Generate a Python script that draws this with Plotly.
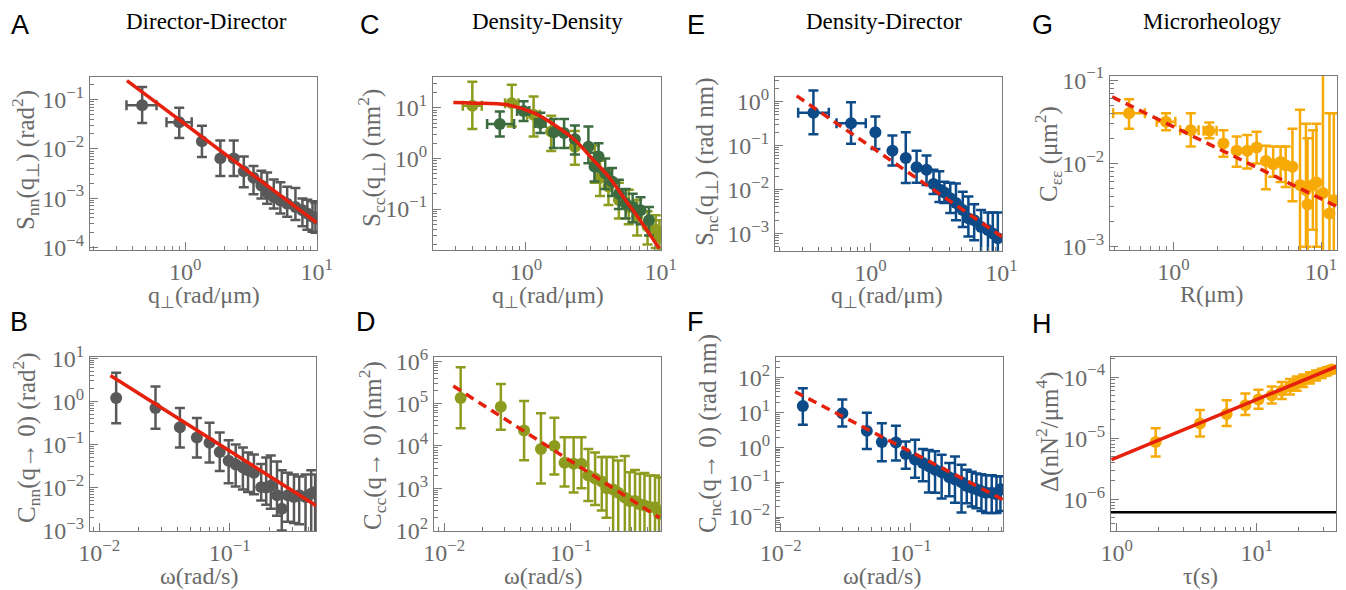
import math
import plotly.graph_objects as go

W, H = 1346, 590

# ---------------- data ----------------
# A: Director-Director, S_nn(q)
A_q = [0.47, 0.90, 1.34, 1.85, 2.34, 2.79, 3.31, 3.8, 4.2, 4.72, 5.3, 5.97, 6.9, 7.8, 8.5, 9.3, 9.8]
A_S = [0.076, 0.0346, 0.0143, 0.0064, 0.0064, 0.0035, 0.0026, 0.0018, 0.0013, 0.00105, 0.0009,
       0.00077, 0.00066, 0.00057, 0.00049, 0.00042, 0.00039]
A_S_hi = [0.178, 0.068, 0.0295, 0.0148, 0.0148, 0.007, 0.0045, 0.0036, 0.0033, 0.0024, 0.0021,
          0.0017, 0.0016, 0.00098, 0.00093, 0.00087, 0.0008]
A_S_lo = [0.0335, 0.0166, 0.0068, 0.0028, 0.0028, 0.00166, 0.0012, 0.00098, 0.00077, 0.00062,
          0.00049, 0.00042, 0.00036, 0.00027, 0.00023, 0.00021, 0.0002]
A_q_lo = [0.357, 0.72] + A_q[2:]
A_q_hi = [0.605, 1.12] + A_q[2:]
A_fit_q = [0.36, 10.0]
A_fit_S = [0.24, 0.00032]

# B: Director-Director, C_nn(q->0)(omega)
B_w = [0.0135, 0.027, 0.0415, 0.056, 0.070, 0.0838, 0.098, 0.111, 0.126, 0.138, 0.153, 0.174,
       0.19, 0.206, 0.23, 0.25, 0.278, 0.31, 0.34, 0.38, 0.42, 0.45]
B_C = [1.19, 0.70, 0.25, 0.144, 0.11, 0.067, 0.042, 0.034, 0.029, 0.025, 0.022, 0.0102, 0.010,
       0.011, 0.0066, 0.0032, 0.0066, 0.006, 0.0066, 0.006, 0.0072, 0.0079]
B_C_hi = [4.6, 2.2, 0.70, 0.41, 0.32, 0.19, 0.125, 0.10, 0.085, 0.065, 0.058, 0.035, 0.05, 0.055,
          0.04, 0.025, 0.022, 0.02, 0.018, 0.02, 0.025, 0.02]
B_C_lo = [0.31, 0.23, 0.085, 0.05, 0.038, 0.024, 0.0126, 0.0105, 0.009, 0.0079, 0.007, 0.005,
          0.004, 0.0032, 0.0022, 0.001, 0.0016, 0.0015, 0.0014, 0.0008, 0.0008, 0.0008]
B_fit_w = [0.0122, 0.47]
B_fit_C = [4.0, 0.0036]

# C: Density-Density, S_cc(q), two data sets
C1_q = [0.40, 0.785, 1.14, 1.54, 2.31, 3.25, 3.55, 4.1, 4.9, 5.8, 6.7, 8.0, 9.2, 9.8]
C1_S = [11, 12.4, 7.3, 3.4, 1.7, 0.80, 0.41, 0.28, 0.15, 0.11, 0.070, 0.045, 0.039, 0.028]
C1_S_hi = [33, 28.5, 16.8, 7.0, 3.5, 1.8, 0.9, 0.6, 0.33, 0.24, 0.15, 0.09, 0.075, 0.06]
C1_S_lo = [3.8, 4.3, 2.7, 1.4, 0.75, 0.33, 0.18, 0.12, 0.065, 0.05, 0.03, 0.02, 0.017, 0.015]
C1_q_lo = [0.34, 0.70, 1.02] + C1_q[3:]
C1_q_hi = [0.47, 0.88, 1.27] + C1_q[3:]
C2_q = [0.64, 0.96, 1.28, 1.61, 1.92, 2.31, 2.91, 3.23, 3.46, 3.88, 4.36, 4.9, 5.5, 6.2, 7.1, 8.2]
C2_S = [4.8, 8.7, 5.0, 3.3, 3.2, 2.4, 1.7, 0.69, 1.09, 0.51, 0.35, 0.2, 0.13, 0.111, 0.095, 0.060]
C2_S_hi = [8.5, 13.5, 8.0, 6.0, 6.0, 4.5, 4.3, 1.3, 2.0, 1.0, 0.65, 0.38, 0.25, 0.2, 0.17, 0.11]
C2_S_lo = [2.7, 5.5, 3.2, 1.6, 1.6, 1.2, 0.8, 0.35, 0.55, 0.25, 0.18, 0.1, 0.065, 0.055, 0.05, 0.03]
C2_q_lo = [0.515, 0.86, 1.17] + C2_q[3:]
C2_q_hi = [0.817, 1.06, 1.40] + C2_q[3:]
C_fit_q = [0.289, 0.408, 0.728, 1.155, 1.63, 2.31, 3.08, 4.11, 5.48, 7.32, 9.78]
C_fit_S = [12.7, 12.4, 11.5, 7.85, 4.6, 2.32, 1.01, 0.436, 0.151, 0.052, 0.0166]

# D: Density-Density, C_cc(q->0)(omega)
D_w = [0.0135, 0.028, 0.0427, 0.058, 0.074, 0.089, 0.105, 0.121, 0.137, 0.155, 0.175, 0.191,
       0.215, 0.236, 0.266, 0.29, 0.32, 0.35, 0.38, 0.42, 0.46, 0.495]
D_C = [1.35e5, 8.4e4, 2.3e4, 8.5e3, 1.0e4, 4.0e3, 3.8e3, 3.8e3, 2.0e3, 1.7e3, 1.45e3, 1.0e3, 930,
       780, 600, 500, 500, 420, 390, 355, 355, 250]
D_C_hi = [7.2e5, 2.9e5, 1.15e5, 5.9e4, 4.6e4, 1.6e4, 1.6e4, 1.6e4, 8.5e3, 7.0e3, 5.5e3, 5.5e3,
          5.5e3, 4.5e3, 5.8e3, 2.4e3, 2.7e3, 2.2e3, 2.3e3, 2.0e3, 2.0e3, 1.8e3]
D_C_lo = [2.6e4, 2.4e4, 4.6e3, 1.3e3, 2.1e3, 1.1e3, 790, 1.0e3, 500, 400, 300, 200, 80, 80, 80, 80,
          80, 80, 80, 80, 80, 80]
D_fit_w = [0.0118, 0.5]
D_fit_C = [2.6e5, 200]

# E: Density-Director, S_nc(q)
E_q = [0.366, 0.71, 1.09, 1.47, 1.86, 2.25, 2.68, 3.03, 3.36, 3.67, 4.07, 4.5, 5.07, 5.6, 6.2,
       7.0, 7.9, 8.6, 9.4]
E_S = [0.56, 0.32, 0.2, 0.076, 0.052, 0.032, 0.028, 0.0134, 0.01, 0.0085, 0.0063, 0.0049, 0.0034,
       0.0022, 0.002, 0.0014, 0.0012, 0.001, 0.00078]
E_S_hi = [1.78, 0.97, 0.46, 0.17, 0.2, 0.076, 0.059, 0.028, 0.026, 0.015, 0.0143, 0.0137, 0.0089,
          0.0069, 0.0046, 0.0034, 0.003, 0.003, 0.003]
E_S_lo = [0.18, 0.11, 0.083, 0.035, 0.014, 0.0143, 0.0126, 0.0079, 0.0052, 0.0049, 0.0029, 0.002,
          0.0014, 0.00085, 0.0007, 0.0003, 0.0003, 0.0003, 0.0003]
E_q_lo = [0.28, 0.55] + E_q[2:]
E_q_hi = [0.48, 0.92] + E_q[2:]
E_fit_q = [0.273, 10.3]
E_fit_S = [1.35, 0.00081]

# F: Density-Director, C_nc(q->0)(omega)
F_w = [0.0148, 0.0298, 0.046, 0.06, 0.077, 0.0916, 0.108, 0.124, 0.138, 0.154, 0.173, 0.198,
       0.219, 0.246, 0.27, 0.295, 0.32, 0.35, 0.38, 0.42, 0.457, 0.49]
F_C = [15.5, 9.6, 3.0, 1.43, 1.39, 0.65, 0.45, 0.36, 0.29, 0.23, 0.194, 0.14, 0.12, 0.1, 0.078,
       0.07, 0.063, 0.055, 0.05, 0.05, 0.045, 0.063]
F_C_hi = [50, 24, 10, 5.0, 4.2, 1.48, 1.66, 0.9, 0.85, 0.78, 0.62, 0.36, 0.55, 0.32, 0.23, 0.2,
          0.18, 0.17, 0.16, 0.16, 0.15, 0.15]
F_C_lo = [4.5, 4.0, 0.91, 0.4, 0.42, 0.245, 0.135, 0.107, 0.051, 0.05, 0.034, 0.04, 0.026, 0.0135,
          0.025, 0.02, 0.018, 0.015, 0.013, 0.013, 0.013, 0.015]
F_fit_w = [0.0129, 0.51]
F_fit_C = [40, 0.032]

# G: Microrheology, C_ee(R)
G_R = [0.50, 0.89, 1.31, 1.75, 2.18, 2.68, 3.16, 3.66, 4.23, 4.74, 5.32, 5.76, 6.4, 7.2, 7.9, 8.1,
       8.8, 9.3, 10.3, 11.4, 12.2]
G_C = [0.040, 0.0316, 0.025, 0.0247, 0.0174, 0.0142, 0.0142, 0.0155, 0.0107, 0.0098, 0.0104,
       0.0095, 0.0091, 0.0055, 0.0048, 0.0032, 0.0055, 0.0059, 0.0044, 0.0025, 0.0036]
G_C_hi = [0.059, 0.04, 0.04, 0.031, 0.025, 0.021, 0.022, 0.024, 0.0163, 0.016, 0.016, 0.016, 0.026,
          0.044, 0.03, 0.02, 0.025, 0.03, 0.12, 0.04, 0.04]
G_C_lo = [0.026, 0.025, 0.016, 0.020, 0.012, 0.0091, 0.0087, 0.01, 0.0049, 0.0069, 0.006, 0.0052,
          0.0035, 0.0005, 0.001, 0.0005, 0.0016, 0.001, 0.0005, 0.0005, 0.0005]
G_R_lo = [0.39, 0.77, 1.11, 1.60] + G_R[4:]
G_R_hi = [0.64, 1.03, 1.48, 1.96] + G_R[4:]
G_fit_R = [0.384, 13.0]
G_fit_C = [0.063, 0.003]

# H: Microrheology, Delta(tau)
H_t = [1.9, 3.94, 6.1, 8.3, 10.3, 12.8, 15.1, 17.3, 19.3, 21.5, 24, 26.5, 29.1, 31.6, 34.3]
H_D = [8.7e-6, 1.74e-5, 2.5e-5, 3.45e-5, 4.3e-5, 5.0e-5, 6.0e-5, 7.0e-5, 7.9e-5, 8.8e-5, 9.8e-5,
       1.07e-4, 1.16e-4, 1.25e-4, 1.34e-4]
H_D_hi = [1.45e-5, 2.9e-5, 4.2e-5, 5.4e-5, 6.2e-5, 7.0e-5, 8.3e-5, 9.3e-5, 1.02e-4, 1.1e-4, 1.2e-4,
          1.28e-4, 1.37e-4, 1.45e-4, 1.52e-4]
H_D_lo = [5.0e-6, 1.07e-5, 1.58e-5, 2.4e-5, 3.05e-5, 3.7e-5, 4.4e-5, 5.2e-5, 6.0e-5, 6.9e-5, 7.9e-5,
          8.8e-5, 9.7e-5, 1.06e-4, 1.16e-4]
H_fit_t = [0.92, 37.3]
H_fit_D = [4.45e-6, 1.5e-4]
H_noise = 6.1e-7

# ---------------- style ----------------
GRAY = "#595959"
OLIVE = "#8d9c1e"
DGREEN = "#3c6b40"
BLUE = "#0c4a88"
ORANGE = "#f7aa05"
RED = "#e5200c"
AXC = "#7a7a7a"
TXT = "#6a6a6a"
SERIF = "Liberation Serif"
SANS = "Liberation Sans"

fig = go.Figure()


def ax_ids(i):
    s = "" if i == 1 else str(i)
    return "x" + s, "y" + s


def add_points(i, x, y, y_hi, y_lo, color, x_lo=None, x_hi=None):
    xa, ya = ax_ids(i)
    ey = dict(type="data", symmetric=False,
              array=[h - v for h, v in zip(y_hi, y)],
              arrayminus=[v - l for v, l in zip(y, y_lo)],
              color=color, thickness=2.5, width=5)
    ex = None
    if x_lo is not None:
        ex = dict(type="data", symmetric=False,
                  array=[h - v for h, v in zip(x_hi, x)],
                  arrayminus=[v - l for v, l in zip(x, x_lo)],
                  color=color, thickness=2.5, width=5)
    fig.add_trace(go.Scatter(x=x, y=y, mode="markers", xaxis=xa, yaxis=ya,
                             marker=dict(color=color, size=12, line=dict(width=0)),
                             error_y=ey, error_x=ex, showlegend=False))


def add_line(i, x, y, dashed=False, shape="linear"):
    xa, ya = ax_ids(i)
    fig.add_trace(go.Scatter(x=x, y=y, mode="lines", xaxis=xa, yaxis=ya, showlegend=False,
                             line=dict(color=RED, width=3.5, shape=shape,
                                       dash="9px,6px" if dashed else "solid")))


add_points(1, A_q, A_S, A_S_hi, A_S_lo, GRAY, A_q_lo, A_q_hi)
add_line(1, A_fit_q, A_fit_S)
add_points(2, B_w, B_C, B_C_hi, B_C_lo, GRAY)
add_line(2, B_fit_w, B_fit_C)
add_points(3, C1_q, C1_S, C1_S_hi, C1_S_lo, OLIVE, C1_q_lo, C1_q_hi)
add_points(3, C2_q, C2_S, C2_S_hi, C2_S_lo, DGREEN, C2_q_lo, C2_q_hi)
add_line(3, C_fit_q, C_fit_S, shape="spline")
add_points(4, D_w, D_C, D_C_hi, D_C_lo, OLIVE)
add_line(4, D_fit_w, D_fit_C, dashed=True)
add_points(5, E_q, E_S, E_S_hi, E_S_lo, BLUE, E_q_lo, E_q_hi)
add_line(5, E_fit_q, E_fit_S, dashed=True)
add_points(6, F_w, F_C, F_C_hi, F_C_lo, BLUE)
add_line(6, F_fit_w, F_fit_C, dashed=True)
add_points(7, G_R, G_C, G_C_hi, G_C_lo, ORANGE, G_R_lo, G_R_hi)
add_line(7, G_fit_R, G_fit_C, dashed=True)
add_points(8, H_t, H_D, H_D_hi, H_D_lo, ORANGE)
add_line(8, H_fit_t, H_fit_D)

# noise floor in H
fig.add_shape(type="line", xref="x8 domain", yref="y8", x0=0, x1=1, y0=H_noise, y1=H_noise,
              line=dict(color="black", width=2.5))


# ---------------- axes ----------------
def pow_label(k):
    return "10<sup>" + (("\u2212" + str(-k)) if k < 0 else str(k)) + "</sup>"


def log_ticks(rng):
    lo, hi = rng
    major = [k for k in range(math.floor(lo), math.ceil(hi) + 1) if lo - 1e-9 <= k <= hi + 1e-9]
    minor = []
    for k in range(math.floor(lo) - 1, math.ceil(hi) + 1):
        for m in range(2, 10):
            v = math.log10(m * 10 ** k)
            if lo <= v <= hi:
                minor.append(m * 10 ** k)
    return major, minor


def axis(rng, dom, anchor):
    major, minor = log_ticks(rng)
    return dict(type="log", range=rng, domain=dom, anchor=anchor, automargin=False,
                tickmode="array", tickvals=[10 ** k for k in major],
                ticktext=[pow_label(k) for k in major],
                ticks="inside", ticklen=8, tickwidth=1, tickcolor=AXC,
                showline=True, linecolor=AXC, linewidth=1.2, mirror=True,
                showgrid=False, zeroline=False,
                tickfont=dict(family=SERIF, size=24, color=TXT),
                minor=dict(tickmode="array", tickvals=minor, ticks="inside", ticklen=4,
                           tickwidth=1, tickcolor=AXC, showgrid=False))


# pixel boxes: (left, right, top, bottom), log ranges
panels = [
    ((90, 317, 77, 250), [-0.725, 1.003], [-4.05, -0.545]),
    ((90, 316, 357, 531), [-2.07, -0.34], [-3.01, 1.03]),
    ((433, 661, 77, 250), [-0.69, 1.003], [-1.81, 1.61]),
    ((434, 661, 357, 531), [-2.08, -0.29], [1.99, 6.1]),
    ((775, 1002, 77, 251), [-0.73, 1.005], [-3.4, 0.56]),
    ((776, 1003, 357, 531), [-2.036, -0.29], [-2.4, 2.6]),
    ((1110, 1337, 76, 250), [-0.43, 1.108], [-3.04, -0.95]),
    ((1111, 1336, 357, 531), [-0.04, 1.566], [-6.52, -3.67]),
]

layout_axes = {}
for i, (box, xr, yr) in enumerate(panels, start=1):
    l, r, t, b = box
    xa, ya = ax_ids(i)
    s = "" if i == 1 else str(i)
    layout_axes["xaxis" + s] = axis(xr, [l / W, r / W], ya)
    layout_axes["yaxis" + s] = axis(yr, [1 - b / H, 1 - t / H], xa)

fig.update_layout(**layout_axes)

# ---------------- text ----------------
ann = []


def text(x, y, s, size, color, family=SERIF, angle=0):
    ann.append(dict(x=x / W, y=1 - y / H, xref="paper", yref="paper", text=s, showarrow=False,
                    xanchor="center", yanchor="middle", textangle=angle,
                    font=dict(family=family, size=size, color=color)))


# panel letters
for lab, x, y in [("A", 20, 25), ("B", 19, 322), ("C", 370, 25), ("D", 366, 322),
                  ("E", 696, 25), ("F", 695, 322), ("G", 1042, 25), ("H", 1042, 324)]:
    text(x, y, lab, 27, "black", SANS)

# column titles
for s, x in [("Director-Director", 206), ("Density-Density", 547),
             ("Density-Director", 884), ("Microrheology", 1212)]:
    text(x, 22, s, 23, "black")

# x-axis titles
QX = "q<sub>\u22a5</sub>(rad/\u03bcm)"
WX = "\u03c9(rad/s)"
for s, x, y in [(QX, 204, 297), (WX, 199, 576), (QX, 548, 297), (WX, 543, 576),
                (QX, 887, 297), (WX, 882, 576), ("R(\u03bcm)", 1212, 294), ("\u03c4(s)", 1200, 576)]:
    text(x, y, s, 24, TXT)

# y-axis titles
for s, x, y in [
    ("S<sub>nn</sub>(q<sub>\u22a5</sub>) (rad<sup>2</sup>)", 25, 160),
    ("C<sub>nn</sub>(q\u2192 0) (rad<sup>2</sup>)", 26, 438),
    ("S<sub>cc</sub>(q<sub>\u22a5</sub>) (nm<sup>2</sup>)", 371, 158),
    ("C<sub>cc</sub>(q\u2192 0) (nm<sup>2</sup>)", 372, 446),
    ("S<sub>nc</sub>(q<sub>\u22a5</sub>) (rad nm)", 706, 162),
    ("C<sub>nc</sub>(q\u2192 0) (rad nm)", 710, 434),
    ("C<sub>\u03b5\u03b5</sub> (\u03bcm<sup>2</sup>)", 1048, 154),
    ("\u0394(nN<sup>2</sup>/\u03bcm<sup>4</sup>)", 1047, 432),
]:
    text(x, y, s, 25, TXT, angle=-90)

fig.update_layout(width=W, height=H, margin=dict(l=0, r=0, t=0, b=0, autoexpand=False),
                  paper_bgcolor="white", plot_bgcolor="white", showlegend=False,
                  annotations=ann)

fig.write_html("out.html", config={"displayModeBar": False},
               post_script="document.body.style.margin='0px';document.body.style.overflow='hidden';")
